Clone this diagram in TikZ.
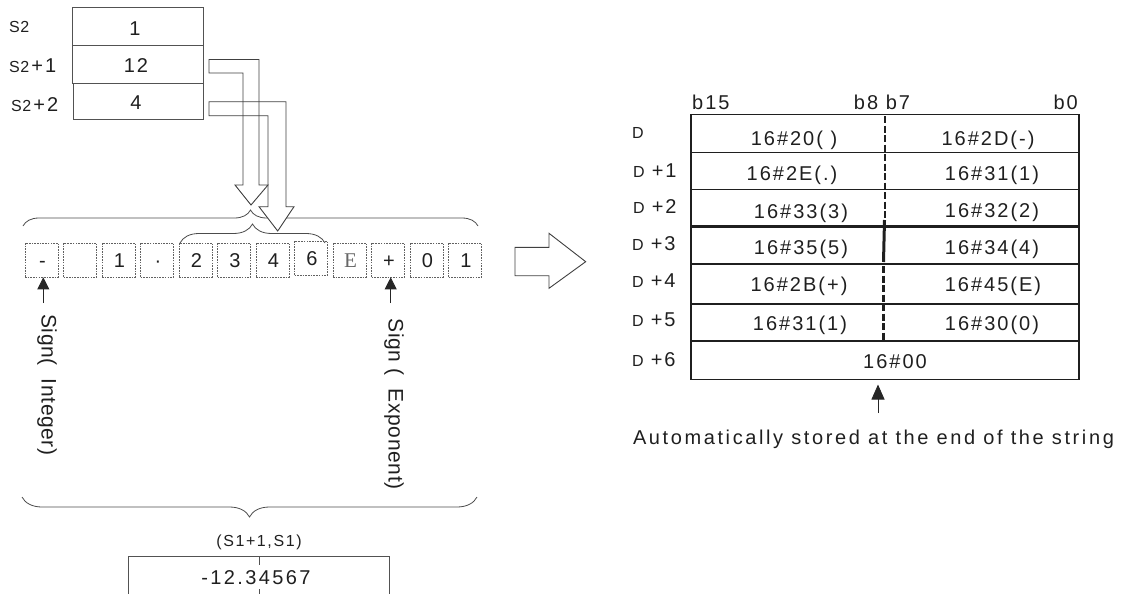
\documentclass[tikz,border=0pt]{standalone}
\usepackage{fontspec}
\setmainfont{Liberation Sans}[LetterSpace=10]
\newfontfamily\serifE{Liberation Serif}
\newfontfamily\tight{Liberation Sans}[LetterSpace=4]
\usetikzlibrary{decorations.pathreplacing,arrows.meta,calc}
\newcommand{\fs}[1]{\fontsize{#1}{#1}\selectfont}
\begin{document}
\begin{tikzpicture}[x=1pt,y=-1pt,
  lbl/.style={inner sep=0pt, text=black!88, font=\fs{20}},
  reg/.style={draw=black!68, line width=0.9pt, minimum width=131pt, minimum height=38pt, inner sep=0pt, font=\fs{20}, text=black!88},
  cellbox/.style={draw=black!62, dash pattern=on 1.6pt off 1.1pt, line width=0.75pt, minimum width=33pt, minimum height=34pt, inner sep=0pt, font=\fs{20}, text=black!88},
  hollow/.style={draw=black!75, line width=0.9pt, line join=miter},
  brc/.style={decorate, draw=black!70, line width=0.8pt},
  tbl/.style={draw=black!88, line width=1.5pt},
  sarrow/.style={draw=black!85, line width=0.8pt, -{Triangle[length=12pt,width=12pt]}},
  cellt/.style={lbl, anchor=base}
]
\useasboundingbox (0,0) rectangle (1133,594);

% ---- S2 registers
\node[reg] (r1) at (137.5,26) {};
\node[reg] (r2) at (137.5,64) {};
\node[reg, minimum width=129.5pt, minimum height=35.5pt] (r3) at (138.3,101.7) {};
\node[cellt] (v1) at (135,36) {1};
\node[cellt] (v2) at (136,73) {12};
\node[cellt] (v3) at (136,110) {4};
\node[lbl, anchor=base west] (l1) at (9,33) {\tight\fs{16}S2};
\node[lbl, anchor=base west] (l2) at (9,73) {{\tight\fs{16}S2}\hspace{2pt}\fs{20}+1};
\node[lbl, anchor=base west] (l3) at (11,111) {{\tight\fs{16}S2}\hspace{2pt}\fs{20}+2};

% ---- cells
\foreach \t [count=\i] in {-,{},1,{·},2,3,4,6,{\serifE\fs{21}\color{black!60}E},+,0,1}{
  \pgfmathsetmacro{\cx}{41.5+38.5*(\i-1)}
  \ifnum\i=8
    \node[cellbox] (c\i) at (\cx,258) {};
  \else
    \node[cellbox] (c\i) at (\cx,260) {};
  \fi
  \node[cellt] (ct\i) at ($(c\i.center)+(1,7.5)$) {\t};
}

% ---- braces
\coordinate (b1l) at (23,226);
\coordinate (b1r) at (478,226);
\draw[brc, decoration={brace,amplitude=16pt}] (b1l) -- (b1r);
\coordinate (b2l) at (180,243);
\coordinate (b2r) at (325,243);
\draw[brc, decoration={brace,amplitude=19pt}] (b2l) -- (b2r);
\coordinate (b3l) at (22,497);
\coordinate (b3r) at (477,497);
\draw[brc, decoration={brace,mirror,amplitude=20pt}] (b3l) -- (b3r);

% ---- hollow bent arrows
\fill[white] (209,59.5) -- (259,59.5) -- (259,185) -- (268,185) -- (251,205) -- (235,185) -- (243,185) -- (243,73) -- (209,73) -- cycle;
\fill[white] (209,101.7) -- (286,101.7) -- (286,206.7) -- (294,206.7) -- (277.7,231) -- (259,206.7) -- (268,206.7) -- (268,115.7) -- (209,115.7) -- cycle;
\draw[hollow] (209,59.5) -- (259,59.5) -- (259,185) -- (268,185) -- (251,205) -- (235,185) -- (243,185) -- (243,73) -- (209,73) -- cycle;
\draw[hollow] (209,101.7) -- (286,101.7) -- (286,206.7) -- (294,206.7) -- (277.7,231) -- (259,206.7) -- (268,206.7) -- (268,115.7) -- (209,115.7) -- cycle;

% ---- sign arrows and labels
\coordinate (s1t) at (43.3,303);
\coordinate (s2t) at (390.7,303);
\draw[sarrow] (s1t) -- (s1t |- c1.south);
\draw[sarrow] (s2t) -- (s2t |- c10.south);
\node[lbl, rotate=-90, font=\fs{21}\addfontfeature{LetterSpace=3}] (sg1) at (47,385) {Sign(\ \ Integer)};
\node[lbl, rotate=-90, font=\fs{21}\addfontfeature{LetterSpace=3}] (sg2) at (394,404) {Sign (\ \ Exponent)};

% ---- result box
\node[lbl, font=\fs{16}] (s1lbl) at (259,542.5) {(S1+1,S1)};
\draw[draw=black!68, line width=0.9pt] (128,594) |- (389,556.7) -- (389,594);
\draw[draw=black!68, line width=0.9pt] (259.3,556.7) -- (259.3,565);
\draw[draw=black!68, line width=0.9pt] (259.3,589) -- (259.3,594);
\node[lbl, font=\fs{20}\addfontfeature{LetterSpace=12}] (val) at (256,578) {-12.34567};

% ---- big hollow arrow
\draw[hollow] (515,247.3) -- (549,247.3) -- (549,233.3) -- (585.7,261.7) -- (549,288.3) -- (549,275.7) -- (515,275.7) -- cycle;

% ---- right table
\draw[tbl] (691,114.3) rectangle (1079,379.5);
\foreach \yy in {152.7,189.3,264,303.8,341}{\draw[tbl] (691,\yy) -- (1079,\yy);}
\draw[tbl, line width=2.6pt] (691,226.7) -- (1079,226.7);
\draw[black!88, line width=2.3pt, dash pattern=on 7pt off 2.5pt] (885,116) -- (885,222);
\draw[black!88, line width=3pt] (884.5,220) -- (883.5,262);
\draw[black!88, line width=2.3pt, dash pattern=on 7pt off 2.5pt] (883.5,266) -- (883.5,341);

\node[lbl, anchor=base west] (b15) at (692,110) {b15};
\node[lbl, anchor=base] (b87) at (882,110) {b8 b7};
\node[lbl, anchor=base east] (b0) at (1078,110) {b0};

\node[lbl, anchor=base west] (d0) at (632,138) {\tight\fs{16}D};
\node[lbl, anchor=base west] (d1) at (633,177) {{\tight\fs{16}D}\hspace{7pt}\fs{20}+1};
\node[lbl, anchor=base west] (d2) at (633,213) {{\tight\fs{16}D}\hspace{7pt}\fs{20}+2};
\node[lbl, anchor=base west] (d3) at (632,250) {{\tight\fs{16}D}\hspace{7pt}\fs{20}+3};
\node[lbl, anchor=base west] (d4) at (632,287) {{\tight\fs{16}D}\hspace{7pt}\fs{20}+4};
\node[lbl, anchor=base west] (d5) at (632,326) {{\tight\fs{16}D}\hspace{7pt}\fs{20}+5};
\node[lbl, anchor=base west] (d6) at (632,366) {{\tight\fs{16}D}\hspace{7pt}\fs{20}+6};

\node[cellt] (t0l) at (794,145) {16\#20( )};
\node[cellt] (t0r) at (988,145) {16\#2D(-)};
\node[cellt] (t1l) at (792,180) {16\#2E(.)};
\node[cellt] (t1r) at (992,180) {16\#31(1)};
\node[cellt] (t2l) at (801,218) {16\#33(3)};
\node[cellt] (t2r) at (992,217) {16\#32(2)};
\node[cellt] (t3l) at (801,254) {16\#35(5)};
\node[cellt] (t3r) at (992,254) {16\#34(4)};
\node[cellt] (t4l) at (799,291) {16\#2B(+)};
\node[cellt] (t4r) at (993,291) {16\#45(E)};
\node[cellt] (t5l) at (800,330) {16\#31(1)};
\node[cellt] (t5r) at (992,330) {16\#30(0)};
\node[cellt] (t6) at (895,368) {16\#00};
\coordinate (tblbot) at (878,379.5);

\coordinate (autoT) at (878,413);
\draw[draw=black!85, line width=0.8pt, -{Triangle[length=15pt,width=13pt]}, shorten >=5pt] (autoT) -- (tblbot);
\node[lbl, anchor=base, font=\fs{20}\addfontfeature{LetterSpace=13}] (auto) at (873.5,444) {Automatically stored at the end of the string};
\end{tikzpicture}
\end{document}
